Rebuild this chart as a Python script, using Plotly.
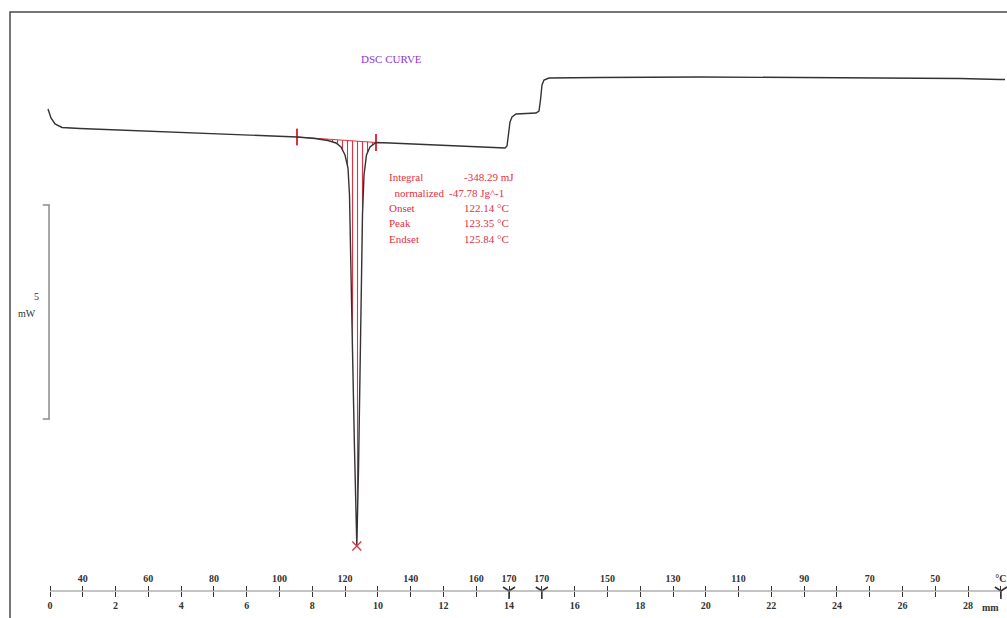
"""
DSC curve: heating to 170 degC, short isotherm, cooling back to 30 degC.
"""

import plotly.graph_objects as go

# ─── Data ─────────────────────────────────────────────────────────────────────
# chart position along the recorder axis (mm) and heat flow (mW, arbitrary zero)
CURVE_MM = [-0.061, 0.030, 0.152, 0.366, 0.915, 3.050, 5.489, 7.533, 8.082, 8.478,
            8.722, 8.875, 8.997, 9.088, 9.134, 9.180, 9.225, 9.287, 9.357, 9.408,
            9.454, 9.500, 9.530, 9.576, 9.652, 9.759, 9.942, 10.369, 11.589, 12.809,
            13.877, 13.938, 13.983, 14.029, 14.090, 14.212, 14.822, 14.913, 14.959, 15.005,
            15.066, 15.218, 16.773, 19.823, 22.873, 25.923, 27.752, 28.972, 29.124]
CURVE_MW = [0.724, 0.514, 0.374, 0.292, 0.269, 0.210, 0.129, 0.070, 0.035, -0.012,
            -0.070, -0.164, -0.350, -0.654, -1.285, -2.804, -4.907, -7.243, -9.486, -7.710,
            -5.607, -3.505, -1.752, -0.818, -0.350, -0.164, -0.058, -0.070, -0.105, -0.152,
            -0.187, -0.140, 0.117, 0.421, 0.537, 0.607, 0.631, 0.678, 0.935, 1.285,
            1.402, 1.449, 1.460, 1.472, 1.460, 1.449, 1.437, 1.414, 1.414]

INTEGRAL_LIMITS_MM = [7.533, 9.942]

MM_TICKS = list(range(0, 30))
MM_LABELS = [str(m) if m % 2 == 0 else "" for m in MM_TICKS]
TEMP_TICK_MM = [1, 3, 5, 7, 9, 11, 13, 14, 15, 17, 19, 21, 23, 25, 27, 29]
TEMP_TICK_TEXT = ["40", "60", "80", "100", "120", "140", "160", "170", "170",
                  "150", "130", "110", "90", "70", "50", "°C"]
SEGMENT_MARKS_MM = [14, 15, 29]

RESULT_LABELS = ["Integral", "  normalized", "Onset", "Peak", "Endset"]
RESULT_VALUES = ["-348.29 mJ", "-47.78 Jg^-1", "122.14 °C", "123.35 °C", "125.84 °C"]

SCALE_MW = 5
SCALE_TOP_MW = -1.52

# ─── Layout constants ─────────────────────────────────────────────────────────
W, H = 1007, 618
X_RANGE = [-1.525, 29.186]
Y_RANGE = [-11.168, 3.271]
AXIS_Y_PX = 591
AXIS_MW = Y_RANGE[0] + (H - AXIS_Y_PX) / H * (Y_RANGE[1] - Y_RANGE[0])
RED = "#e3303f"
INK = "#333333"
SERIF = "Liberation Serif, Times New Roman, serif"


def px(x, y):
    """pixel position -> paper coordinates"""
    return x / W, 1 - y / H


fig = go.Figure()

# integration area, hatched with vertical red lines
i0 = CURVE_MM.index(INTEGRAL_LIMITS_MM[0])
i1 = CURVE_MM.index(INTEGRAL_LIMITS_MM[1])
fig.add_trace(go.Scatter(
    x=CURVE_MM[i0:i1 + 1], y=CURVE_MW[i0:i1 + 1],
    mode="lines", fill="toself", line=dict(width=0),
    fillcolor="rgba(0,0,0,0)",
    fillpattern=dict(shape="|", fgcolor=RED, bgcolor="rgba(0,0,0,0)",
                     size=5, solidity=0.22, fillmode="replace"),
    hoverinfo="skip", showlegend=False,
))
# baseline + limit brackets
fig.add_trace(go.Scatter(
    x=[CURVE_MM[i0], CURVE_MM[i1]], y=[CURVE_MW[i0], CURVE_MW[i1]],
    mode="lines+markers", line=dict(color=RED, width=1),
    marker=dict(symbol="line-ns-open", size=12, color=RED, line=dict(color=RED, width=2)),
    showlegend=False,
))

# main curve
fig.add_trace(go.Scatter(
    x=CURVE_MM, y=CURVE_MW, mode="lines",
    line=dict(color=INK, width=1.4), showlegend=False,
))

# peak marker
ip = CURVE_MW.index(min(CURVE_MW))
fig.add_trace(go.Scatter(
    x=[CURVE_MM[ip]], y=[CURVE_MW[ip]], mode="markers",
    marker=dict(symbol="x-thin-open", size=9, color=RED, line=dict(color=RED, width=1.3)),
    showlegend=False,
))

# 5 mW scale bar
fig.add_trace(go.Scatter(
    x=[-0.22, -0.03, -0.03, -0.22],
    y=[SCALE_TOP_MW, SCALE_TOP_MW, SCALE_TOP_MW - SCALE_MW, SCALE_TOP_MW - SCALE_MW],
    mode="lines", line=dict(color="#8a8a8a", width=1.5), showlegend=False,
))

# segment marks on the time/temperature axis (also carries the temperature axis)
fig.add_trace(go.Scatter(
    x=SEGMENT_MARKS_MM, y=[AXIS_MW] * len(SEGMENT_MARKS_MM), mode="markers",
    xaxis="x2",
    marker=dict(symbol="y-down", size=10, color=INK, line=dict(color=INK, width=1.6)),
    showlegend=False,
))

# text
ann = []
x, y = px(391, 59)
ann.append(dict(x=x, y=y, text="DSC CURVE", font=dict(size=11, color="#9333d6", family=SERIF)))
rows_y = [177, 192.5, 208, 223.5, 239]
for lab, val, ry in zip(RESULT_LABELS, RESULT_VALUES, rows_y):
    lx, ly = px(387, ry)
    vx, _ = px(447 if lab.strip() == "normalized" else 462, ry)
    ann.append(dict(x=lx, y=ly, text=lab.replace(" ", "&nbsp;"), xanchor="left",
                    font=dict(size=11, color=RED, family=SERIF)))
    ann.append(dict(x=vx, y=ly, text=val, xanchor="left",
                    font=dict(size=11, color=RED, family=SERIF)))
x, y = px(36, 296)
ann.append(dict(x=x, y=y, text="5", font=dict(size=10, color=INK, family=SERIF)))
x, y = px(27, 313)
ann.append(dict(x=x, y=y, text="mW", font=dict(size=10, color=INK, family=SERIF)))
x, y = px(990, 607)
ann.append(dict(x=x, y=y, text="<b>mm</b>", font=dict(size=10, color=INK, family=SERIF)))
for a in ann:
    a.update(xref="paper", yref="paper", showarrow=False)
    a.setdefault("xanchor", "center")
    a.setdefault("yanchor", "middle")

tickfont = dict(size=10, color=INK, family=SERIF, weight="bold")
axis_pos = (H - AXIS_Y_PX) / H
fig.update_layout(
    width=W, height=H,
    margin=dict(l=0, r=0, t=0, b=0),
    paper_bgcolor="white", plot_bgcolor="white",
    annotations=ann,
    xaxis=dict(range=X_RANGE, domain=[0, 1], anchor="free", position=axis_pos,
               showline=False,
               ticks="outside", ticklen=5, tickwidth=1.4, tickcolor=INK,
               tickvals=MM_TICKS, ticktext=MM_LABELS, tickfont=tickfont,
               showgrid=False, zeroline=False),
    xaxis2=dict(range=X_RANGE, overlaying="x", anchor="free", position=axis_pos,
                side="top", showline=False,
                ticks="outside", ticklen=5, tickwidth=1.4, tickcolor=INK,
                tickvals=MM_TICKS,
                ticktext=[TEMP_TICK_TEXT[TEMP_TICK_MM.index(m)] if m in TEMP_TICK_MM else ""
                          for m in MM_TICKS],
                tickfont=tickfont, showgrid=False, zeroline=False),
    yaxis=dict(range=Y_RANGE, domain=[0, 1], visible=False),
    shapes=[
        dict(type="rect", xref="paper", yref="paper",
             x0=10 / W, x1=1.05, y0=-0.05, y1=1 - 12 / H,
             line=dict(color="#4a4a4a", width=1.5)),
        # axis line, only over the recorded span
        dict(type="line", xref="x", yref="paper",
             x0=MM_TICKS[0], x1=MM_TICKS[-1], y0=axis_pos, y1=axis_pos,
             line=dict(color="#8a8a8a", width=1)),
    ],
)

# page margin would push the chart 8 px off the window
fig.write_html("out.html", config={"displayModeBar": False},
               post_script="document.body.style.margin='0';"
                           "document.body.style.overflow='hidden';")
